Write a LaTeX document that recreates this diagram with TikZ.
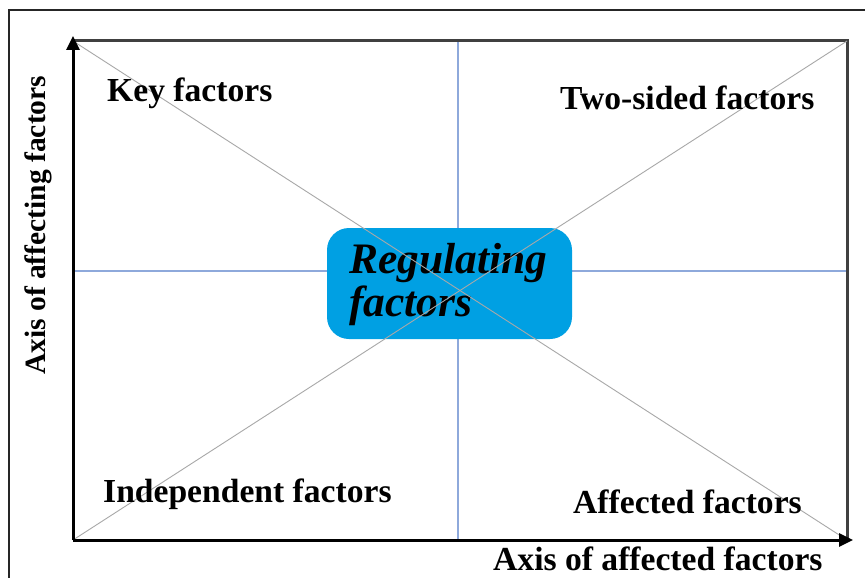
\documentclass[tikz,border=0pt]{standalone}
\usepackage{fontspec}
\setmainfont{Liberation Serif}
\usetikzlibrary{arrows.meta}
\definecolor{gridblue}{HTML}{8EA9DB}
\definecolor{diaggray}{HTML}{A8A8A8}
\definecolor{boxblue}{HTML}{00A0E3}
\tikzset{
  lbl/.style={font=\fontsize{33.6}{38}\selectfont\bfseries, inner sep=0pt, text=black},
  axisline/.style={line width=3pt, draw=black},
  frameline/.style={line width=3pt, draw=black!75},
  gridline/.style={line width=1.4pt, draw=gridblue},
  diagline/.style={line width=0.9pt, draw=diaggray},
  tip/.style={-{Triangle[length=14pt,width=13pt]}},
}
\begin{document}
\begin{tikzpicture}[x=1pt,y=-1pt]
\useasboundingbox (0,0) rectangle (865,578);
\fill[white] (0,0) rectangle (865,578);
% outer frame (cropped)
\draw[line width=1.6pt, draw=black!85] (9,590) -- (9,10) -- (880,10);
% corners of the chart
\coordinate (bl) at (73,540);
\coordinate (tl) at (73,41);
\coordinate (tr) at (847,41);
\coordinate (br) at (847,540);
\coordinate (tm) at (458,41);
\coordinate (bm) at (458,540);
\coordinate (lm) at (73,271);
\coordinate (rm) at (847,271);
\coordinate (ytip) at (73,36);
\coordinate (xtip) at (853,540);
% grid
\draw[gridline] (tm) -- (bm);
\draw[gridline] (lm) -- (rm);
% frame
\draw[frameline] (tl) -- (tr) -- (br);
% central box
\node[draw=none, fill=boxblue, rounded corners=22pt, minimum width=245pt, minimum height=111pt, inner sep=0pt] (reg) at (449.5,283.5) {};
\node[font=\fontsize{43.5}{43}\selectfont\bfseries\itshape, align=left, anchor=base west, inner sep=0pt] (regtxt) at (349,316) {Regulating\\factors};
% diagonals
\draw[diagline] (tl) -- (br);
\draw[diagline] (bl) -- (tr);
% axes
\draw[axisline, tip] (bl) -- (ytip);
\draw[axisline, tip] (bl) -- (xtip);
% labels
\node[lbl, anchor=base west] (key) at (107,101) {Key factors};
\node[lbl, anchor=base west] (two) at (560,109) {Two-sided factors};
\node[lbl, anchor=base west] (ind) at (103,502) {Independent factors};
\node[lbl, anchor=base west] (aff) at (573,513) {Affected factors};
\node[lbl, anchor=base west] (xax) at (493,570) {Axis of affected factors};
\node[lbl, anchor=base west, rotate=90, font=\fontsize{29.5}{34}\selectfont\bfseries] (yax) at (45,375) {Axis of affecting factors};
\end{tikzpicture}
\end{document}
